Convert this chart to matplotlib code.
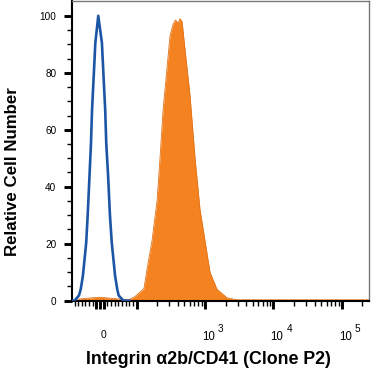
import matplotlib
matplotlib.use("Agg")
import matplotlib.pyplot as plt
from matplotlib.ticker import FixedLocator, NullFormatter
from matplotlib.transforms import blended_transform_factory, offset_copy

# isotype control (blue outline)
iso_x = [-77, -70, -58, -53, -47, -38, -34, -29, -25, -22, -17, -13, -5,
         5, 9, 14, 17, 22, 27, 32, 41, 47, 51, 64, 80]
iso_y = [0, 0, 1.8, 4, 8.8, 20.4, 30, 43.8, 55, 67, 80, 90.5, 100,
         90.5, 80, 67, 55, 43.8, 30, 20.4, 8.8, 4, 1.8, 0, 0]

# Integrin a2b/CD41 stained (orange filled)
cd41_x = [-77, -41, 0, 33, 68, 82, 96, 112, 128, 142, 168, 199, 220, 244, 279, 308,
          341, 370, 404, 430, 462, 511, 604, 715, 845, 1000, 1183, 1497, 2094, 2931,
          10000, 100000, 248000]
cd41_y = [0.3, 0.8, 1.2, 0.8, 0.4, 0.5, 1.5, 3, 4.2, 11, 21, 35, 50, 67, 82, 93,
          97, 98.5, 97.5, 99, 98, 88, 72, 50, 32, 21, 10, 4, 1, 0.3,
          0.3, 0.3, 0.3]

decades = [1000, 10000, 100000]
dec_exp = ["3", "4", "5"]
y_ticks = [0, 20, 40, 60, 80, 100]

fig = plt.figure(figsize=(3.72, 3.73), dpi=100)
ax = fig.add_axes([0.1935, 0.1917, 0.798, 0.8056])

ax.fill_between(cd41_x, cd41_y, -1, color="#f58220", lw=0, zorder=2)
ax.plot(cd41_x, cd41_y, color="#e0741a", lw=0.6, zorder=2)
ax.plot(iso_x, iso_y, color="#1d55a6", lw=1.9, zorder=3)

ax.set_xscale("symlog", linthresh=100, linscale=0.48)
ax.set_xlim(-77, 248000)
ax.set_ylim(-0.3, 105.2)

# x ticks (labels drawn by hand below)
major = [-10, 0, 10, 100] + decades
ax.xaxis.set_major_locator(FixedLocator(major))
ax.xaxis.set_major_formatter(NullFormatter())
minor = [v for v in range(-70, 100, 10) if v not in (-10, 0, 10)]
for dec in (100, 1000, 10000, 100000):
    minor += [dec * k for k in range(2, 10) if dec * k < 248000]
ax.xaxis.set_minor_locator(FixedLocator(minor))
ax.xaxis.set_minor_formatter(NullFormatter())

ax.set_yticks(y_ticks)
ax.set_yticks(range(0, 105, 5), minor=True)

ax.tick_params(axis="both", which="major", length=5.8, width=2.1, direction="out")
ax.tick_params(axis="both", which="minor", length=3.3, width=1.0, direction="out")
ax.tick_params(axis="y", which="major", pad=5.5, labelsize=7.2)
for lab in ax.get_yticklabels():
    lab.set_fontfamily("Liberation Sans")

# hand placed x tick labels: baseline ~37.5 px below the axis
tr = blended_transform_factory(ax.transData, ax.transAxes)
ax.text(0, 0, "0", transform=offset_copy(tr, fig, x=3, y=-37, units="dots"),
        ha="center", va="baseline", fontsize=7.5, fontfamily="Liberation Sans")
for dec, e in zip(decades, dec_exp):
    ax.text(dec, 0, "10", transform=offset_copy(tr, fig, x=-3, y=-38.5, units="dots"),
            ha="left", va="baseline", fontsize=8.3, fontfamily="Liberation Sans")
    ax.text(dec, 0, e, transform=offset_copy(tr, fig, x=13, y=-30.5, units="dots"),
            ha="left", va="baseline", fontsize=7.2, fontfamily="Liberation Sans")

for side in ("top", "right"):
    ax.spines[side].set_color("#777777")
    ax.spines[side].set_linewidth(1.0)
for side in ("left", "bottom"):
    ax.spines[side].set_color("black")
    ax.spines[side].set_linewidth(1.5)

fig.text(208.5 / 372, 1 - 360 / 373, "Integrin α2b/CD41 (Clone P2)",
         fontfamily="Liberation Sans", fontweight="bold", fontsize=12.8,
         ha="center", va="center")
fig.text(13 / 372, 1 - 172 / 373, "Relative Cell Number",
         fontfamily="Liberation Sans", fontweight="bold", fontsize=12.2,
         rotation=90, ha="center", va="center")

fig.savefig("out.png", dpi=100)
